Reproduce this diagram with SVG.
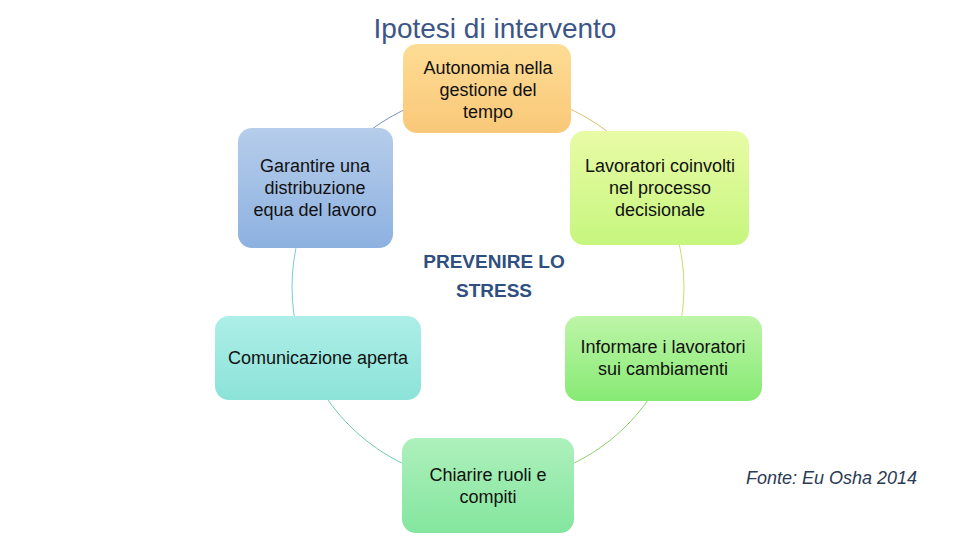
<svg xmlns="http://www.w3.org/2000/svg" width="960" height="540" viewBox="0 0 960 540">
<defs>
<linearGradient id="gOrange" x1="0" y1="0" x2="0" y2="1"><stop offset="0" stop-color="#fedc95"/><stop offset="1" stop-color="#f9c878"/></linearGradient>
<linearGradient id="gBlue" x1="0" y1="0" x2="0" y2="1"><stop offset="0" stop-color="#b6cdeb"/><stop offset="1" stop-color="#8db1e0"/></linearGradient>
<linearGradient id="gLime" x1="0" y1="0" x2="0" y2="1"><stop offset="0" stop-color="#e9fba6"/><stop offset="1" stop-color="#c6f67e"/></linearGradient>
<linearGradient id="gCyan" x1="0" y1="0" x2="0" y2="1"><stop offset="0" stop-color="#adeee8"/><stop offset="1" stop-color="#8ce3d8"/></linearGradient>
<linearGradient id="gGreen" x1="0" y1="0" x2="0" y2="1"><stop offset="0" stop-color="#bdf5a8"/><stop offset="1" stop-color="#87ea74"/></linearGradient>
<linearGradient id="gMint" x1="0" y1="0" x2="0" y2="1"><stop offset="0" stop-color="#aef0bc"/><stop offset="1" stop-color="#83e69e"/></linearGradient>
</defs>
<style>
.lbl{font-family:"Liberation Sans",Arial,sans-serif;font-size:18px;fill:#111;text-anchor:middle}
.arc{fill:none;stroke-width:1}
.title{font-family:"Liberation Sans",Arial,sans-serif;font-size:28px;fill:#3b5687;text-anchor:middle}
.center{font-family:"Liberation Sans",Arial,sans-serif;font-size:19px;font-weight:bold;fill:#2f4f80;text-anchor:middle}
.src{font-family:"Liberation Sans",Arial,sans-serif;font-size:18px;font-style:italic;fill:#2b3a55}
</style>
<rect width="960" height="540" fill="#ffffff"/>
<text class="title" x="495" y="38">Ipotesi di intervento</text>
<g id="connectors">
<path class="arc" stroke="#7395bd" d="M318.3 189 A196 196 0 0 1 488 91"/>
<path class="arc" stroke="#dcbf6c" d="M488 91 A196 196 0 0 1 657.7 189"/>
<path class="arc" stroke="#cddd6a" d="M657.7 189 A196 196 0 0 1 657.7 385"/>
<path class="arc" stroke="#8fd26a" d="M657.7 385 A196 196 0 0 1 488 483"/>
<path class="arc" stroke="#72cfa8" d="M488 483 A196 196 0 0 1 318.3 385"/>
<path class="arc" stroke="#7ccad6" d="M318.3 385 A196 196 0 0 1 318.3 189"/>
</g>
<g id="node-autonomia">
<rect x="403" y="44" width="168" height="89" rx="14" fill="url(#gOrange)"/>
<text class="lbl" x="488" y="74">Autonomia nella</text>
<text class="lbl" x="488" y="96">gestione del</text>
<text class="lbl" x="488" y="118">tempo</text>
</g>
<g id="node-lavoratori">
<rect x="570" y="131" width="179" height="114" rx="14" fill="url(#gLime)"/>
<text class="lbl" x="660" y="172">Lavoratori coinvolti</text>
<text class="lbl" x="660" y="194">nel processo</text>
<text class="lbl" x="660" y="216">decisionale</text>
</g>
<g id="node-informare">
<rect x="565" y="316" width="197" height="85" rx="14" fill="url(#gGreen)"/>
<text class="lbl" x="663" y="353">Informare i lavoratori</text>
<text class="lbl" x="663" y="375">sui cambiamenti</text>
</g>
<g id="node-chiarire">
<rect x="402" y="438" width="172" height="95" rx="14" fill="url(#gMint)"/>
<text class="lbl" x="488" y="481">Chiarire ruoli e</text>
<text class="lbl" x="488" y="503">compiti</text>
</g>
<g id="node-comunicazione">
<rect x="215" y="316" width="206" height="84" rx="14" fill="url(#gCyan)"/>
<text class="lbl" x="318" y="364">Comunicazione aperta</text>
</g>
<g id="node-garantire">
<rect x="238" y="128" width="155" height="120" rx="14" fill="url(#gBlue)"/>
<text class="lbl" x="315" y="172">Garantire una</text>
<text class="lbl" x="315" y="194">distribuzione</text>
<text class="lbl" x="315" y="216">equa del lavoro</text>
</g>
<g id="center-text">
<text class="center" x="494" y="268">PREVENIRE LO</text>
<text class="center" x="494" y="297">STRESS</text>
</g>
<text class="src" x="746" y="484">Fonte: Eu Osha 2014</text>
</svg>
